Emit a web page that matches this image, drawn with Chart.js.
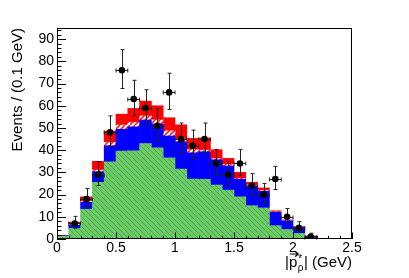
<!DOCTYPE html>
<html>
<head>
<meta charset="utf-8">
<script src="https://cdn.jsdelivr.net/npm/chart.js@4.4.0/dist/chart.umd.min.js"></script>
<style>
  html, body { margin: 0; padding: 0; background: #fff; }
  #wrap { width: 409px; height: 278px; }
</style>
</head>
<body>
<div id="wrap"><canvas id="hist"></canvas></div>
<script>
// centres of the 0.1 GeV bins in |p*|
const binCenters = [0.05, 0.15, 0.25, 0.35, 0.45, 0.55, 0.65, 0.75, 0.85, 0.95,
  1.05, 1.15, 1.25, 1.35, 1.45, 1.55, 1.65, 1.75, 1.85, 1.95,
  2.05, 2.15, 2.25, 2.35, 2.45];
const binHalfWidth = 0.05;

// stacked components, bottom to top
const greenBkg = [1.2, 4.8, 13.4, 25.5, 34.7, 39.6, 39.7, 43.0, 41.0, 36.5,
  31.5, 27.0, 26.9, 24.3, 22.0, 19.0, 15.0, 14.0, 6.0, 4.3,
  2.5, 0.8, 0, 0, 0];
const blueBkg = [0.3, 1.5, 3.1, 4.8, 7.3, 9.8, 10.8, 10.6, 10.8, 9.9,
  12.3, 11.8, 12.4, 11.4, 10.9, 7.9, 9.0, 7.5, 6.0, 3.9,
  2.7, 0.4, 0, 0, 0];
const hatchBkg = [0, 0.3, 0.5, 0.7, 1.5, 1.9, 2.0, 1.8, 1.8, 2.3,
  1.2, 1.4, 0.7, 0.5, 0.6, 0.3, 0.3, 0.3, 0.2, 0.1,
  0.1, 0, 0, 0, 0];
const redSig = [0.2, 1.0, 2.0, 4.0, 5.1, 4.9, 6.3, 6.7, 6.4, 5.9,
  6.4, 5.1, 5.5, 4.0, 2.8, 2.8, 1.2, 1.2, 0.5, 0.3,
  0.3, 0.2, 0, 0, 0];

// observed events per bin
const counts = [null, 7, 18, 29, 48, 76, 63, 59, 51, 66,
  45, 42, 45, 34, 29, 34, 24, 20, 27, 10,
  5, 1, null, null, null];

const xTicks = [0, 0.5, 1, 1.5, 2, 2.5];
const yTicks = [0, 10, 20, 30, 40, 50, 60, 70, 80, 90];

const FONT = '"Liberation Sans", Arial, Helvetica, sans-serif';

function makeHatch(bg, fg, lw, step, slash) {
  const c = document.createElement("canvas");
  c.width = step; c.height = step;
  const g = c.getContext("2d");
  g.fillStyle = bg;
  g.fillRect(0, 0, step, step);
  g.strokeStyle = fg;
  g.lineWidth = lw;
  g.beginPath();
  for (let k = -1; k <= 1; k++) {
    if (slash) {
      g.moveTo(k * step, step);
      g.lineTo(k * step + step, 0);
    } else {
      g.moveTo(k * step, 0);
      g.lineTo(k * step + step, step);
    }
  }
  g.stroke();
  return g.createPattern(c, "repeat");
}

const ctx0 = document.getElementById("hist").getContext("2d");
const greenFill = makeHatch("#6ccb66", "#4fa84f", 1, 5, false);
const redHatch = makeHatch("#ffffff", "#ff2020", 1.6, 5, true);

const toPoints = arr => arr.map((v, i) => ({ x: binCenters[i], y: v }));

// frame, ROOT-style inner ticks, titles and error bars
const rootStyle = {
  id: "rootStyle",
  beforeDatasetDraw(chart, args) {
    if (args.meta.type !== "scatter") return;
    const xs = chart.scales.x, ys = chart.scales.y;
    const ctx = chart.ctx;
    ctx.save();
    ctx.strokeStyle = "#222";
    ctx.lineWidth = 1;
    counts.forEach((n, i) => {
      if (n === null) return;
      const px = Math.round(xs.getPixelForValue(binCenters[i])) + 0.5;
      const py = Math.round(ys.getPixelForValue(n)) + 0.5;
      const x0 = xs.getPixelForValue(binCenters[i] - binHalfWidth);
      const x1 = xs.getPixelForValue(binCenters[i] + binHalfWidth);
      const yLo = ys.getPixelForValue(n + 0.5 - Math.sqrt(n + 0.25));
      const yHi = ys.getPixelForValue(n + 0.5 + Math.sqrt(n + 0.25));
      ctx.beginPath();
      ctx.moveTo(x0, py); ctx.lineTo(x1, py);
      ctx.moveTo(x0, py - 2); ctx.lineTo(x0, py + 2);
      ctx.moveTo(x1, py - 2); ctx.lineTo(x1, py + 2);
      ctx.moveTo(px, yLo); ctx.lineTo(px, yHi);
      ctx.moveTo(px - 2, yLo); ctx.lineTo(px + 2, yLo);
      ctx.moveTo(px - 2, yHi); ctx.lineTo(px + 2, yHi);
      ctx.stroke();
    });
    ctx.restore();
  },
  afterDraw(chart) {
    const { ctx, chartArea: a } = chart;
    const xs = chart.scales.x, ys = chart.scales.y;
    ctx.save();
    ctx.strokeStyle = "#000";
    ctx.lineWidth = 1;
    ctx.strokeRect(a.left + 0.5, a.top + 0.5, a.right - a.left - 1, a.bottom - a.top - 1);

    ctx.beginPath();
    for (let v = 0; v <= ys.max; v += 2) {
      const y = Math.round(ys.getPixelForValue(v)) + 0.5;
      const len = v % 10 === 0 ? 9 : 4.5;
      ctx.moveTo(a.left, y); ctx.lineTo(a.left + len, y);
    }
    for (let k = 0; k <= 25; k++) {
      const x = Math.round(xs.getPixelForValue(k / 10)) + 0.5;
      const len = k % 5 === 0 ? 6.5 : 3.2;
      ctx.moveTo(x, a.bottom); ctx.lineTo(x, a.bottom - len);
    }
    ctx.stroke();

    // y title
    ctx.fillStyle = "#000";
    ctx.font = "15px " + FONT;
    ctx.save();
    ctx.translate(18, a.top);
    ctx.rotate(-Math.PI / 2);
    ctx.textAlign = "right";
    ctx.textBaseline = "middle";
    ctx.fillText("Events / (0.1 GeV)", 0, 0);
    ctx.restore();

    // x title: |p_rho^*| (GeV) with vector arrow on p
    const base = 267;
    const big = "15px " + FONT, small = "10px " + FONT;
    ctx.font = big;
    const wA = ctx.measureText("|").width;
    const wP = ctx.measureText("p").width;
    const wC = ctx.measureText("| (GeV)").width;
    ctx.font = small;
    const wS = Math.max(ctx.measureText("\u03c1").width, ctx.measureText("*").width) + 1;
    let x = a.right - (wA + wP + wS + wC);
    ctx.textAlign = "left";
    ctx.textBaseline = "alphabetic";
    ctx.font = big;
    ctx.fillText("|", x, base);
    const pL = x + wA;
    ctx.fillText("p", pL, base);
    ctx.beginPath();
    ctx.lineWidth = 1.2;
    const ay = base - 13;
    ctx.moveTo(pL + 1, ay); ctx.lineTo(pL + wP + 1, ay);
    ctx.moveTo(pL + wP - 2, ay - 2.5); ctx.lineTo(pL + wP + 1, ay); ctx.lineTo(pL + wP - 2, ay + 2.5);
    ctx.stroke();
    x = pL + wP;
    ctx.font = small;
    ctx.fillText("\u03c1", x + 0.5, base + 4);
    ctx.fillText("*", x + 1, base - 5);
    x += wS;
    ctx.font = big;
    ctx.fillText("| (GeV)", x, base);
    ctx.restore();
  }
};

const barStyle = { barPercentage: 1, categoryPercentage: 1, borderWidth: 0, stack: "mc", order: 1 };

new Chart(ctx0, {
  type: "bar",
  data: {
    datasets: [
      {
        type: "scatter", label: "data", order: 0,
        data: counts.map((n, i) => ({ x: binCenters[i], y: n })),
        pointRadius: 3.3, pointBackgroundColor: "#000", pointBorderColor: "#000", pointBorderWidth: 0
      },
      { label: "bkg 1", data: toPoints(greenBkg), backgroundColor: greenFill, ...barStyle },
      { label: "bkg 2", data: toPoints(blueBkg), backgroundColor: "#0000ff", ...barStyle },
      { label: "bkg 3", data: toPoints(hatchBkg), backgroundColor: redHatch, ...barStyle },
      { label: "signal", data: toPoints(redSig), backgroundColor: "#ff0000", ...barStyle }
    ]
  },
  options: {
    responsive: true,
    maintainAspectRatio: false,
    animation: false,
    layout: { padding: { left: 0, right: 57, top: 28, bottom: 0 } },
    plugins: { legend: { display: false }, tooltip: { enabled: false } },
    scales: {
      x: {
        type: "linear", position: "bottom", min: 0, max: 2.5, offset: false, stacked: true,
        grid: { display: false, drawTicks: false, offset: false },
        border: { display: false },
        afterBuildTicks: s => { s.ticks = xTicks.map(v => ({ value: v })); },
        afterFit: s => { s.height = 39; },
        ticks: {
          padding: 1, color: "#000", maxRotation: 0, autoSkip: false,
          font: { family: FONT, size: 14 },
          callback: v => String(v)
        }
      },
      y: {
        stacked: true, min: 0, max: 95,
        grid: { display: false, drawTicks: false },
        border: { display: false },
        afterBuildTicks: s => { s.ticks = yTicks.map(v => ({ value: v })); },
        afterFit: s => { s.width = 57; },
        ticks: {
          padding: 3, color: "#000",
          font: { family: FONT, size: 14 },
          callback: v => String(v)
        }
      }
    }
  },
  plugins: [rootStyle]
});
</script>
</body>
</html>
